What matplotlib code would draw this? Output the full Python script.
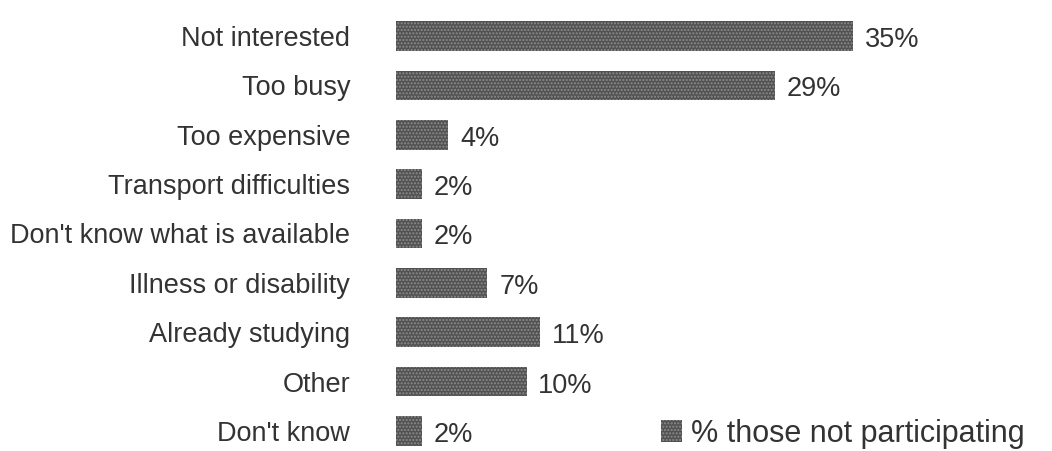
import matplotlib.pyplot as plt

plt.rcParams['font.family'] = ['Liberation Sans', 'DejaVu Sans']

# Motivos para nao participar
reasons = ['Not interested', 'Too busy', 'Too expensive', 'Transport difficulties',
           "Don't know what is available", 'Illness or disability',
           'Already studying', 'Other', "Don't know"]
percent = [35, 29, 4, 2, 2, 7, 11, 10, 2]
series_name = '% those not participating'

fig = plt.figure(figsize=(10.52, 4.51), dpi=100)
ax = fig.add_axes([396 / 1052, 0, 653 / 1052, 1])

pos = list(range(len(reasons)))
bars = ax.barh(pos, percent, height=0.6, color='#525252', edgecolor='#8c8c8c',
               linewidth=0, hatch='.....', label=series_name)

# Rotulos de valor no fim de cada barra
for p, v in zip(pos, percent):
    ax.text(v + 0.9, p + 0.08, f'{v}%', va='center', ha='left', fontsize=19.5,
            color='#333333')

ax.set_xlim(0, 50)
ax.set_ylim(8.405, -0.729)
ax.set_yticks(pos)
ax.set_yticklabels(reasons, fontsize=19.5, color='#333333')
ax.tick_params(axis='y', length=0, pad=33)
ax.set_xticks([])
for s in ax.spines.values():
    s.set_visible(False)

fig.legend(handles=[bars], labels=[series_name], loc='lower right',
           bbox_to_anchor=(1040 / 1052, -13 / 451), frameon=False, fontsize=22,
           handlelength=0.7, handleheight=0.7, handletextpad=0.3,
           borderpad=0, labelcolor='#333333')

fig.savefig('out.png', dpi=100, facecolor='white')
